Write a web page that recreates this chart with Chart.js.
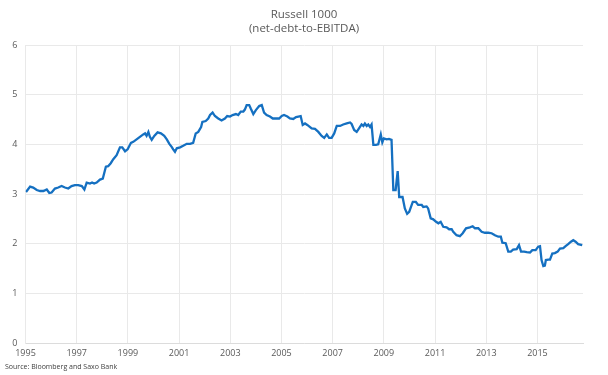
<!DOCTYPE html>
<html>
<head>
<meta charset="utf-8">
<script src="https://cdn.jsdelivr.net/npm/chart.js@4/dist/chart.umd.min.js"></script>
<style>
    body { margin: 0; background: #fff; }
    #wrap { position: relative; width: 608px; height: 375px; font-family: 'Open Sans', sans-serif; }
    #title { position: absolute; top: 7px; left: 0; width: 608px; text-align: center; font-size: 11.5px; line-height: 14px; color: #595959; }
    #source { position: absolute; left: 5px; top: 362px; font-size: 7px; line-height: 10px; color: #404040; }
    #chart { position: absolute; left: 0; top: 0; }
</style>
</head>
<body>
<div id="wrap">
    <canvas id="chart" width="608" height="375"></canvas>
    <div id="title">Russell 1000<br>(net-debt-to-EBITDA)</div>
    <div id="source">Source: Bloomberg and Saxo Bank</div>
</div>
<script>
// dates as decimal years
var years = [
    1995.02, 1995.18, 1995.30, 1995.44, 1995.57, 1995.70, 1995.83, 1995.93, 1996.02, 1996.15,
    1996.28, 1996.41, 1996.54, 1996.67, 1996.80, 1996.93, 1997.06, 1997.20, 1997.30, 1997.39,
    1997.52, 1997.60, 1997.68, 1997.78, 1997.91, 1998.02, 1998.14, 1998.23, 1998.33, 1998.43,
    1998.56, 1998.69, 1998.78, 1998.89, 1998.99, 1999.12, 1999.21, 1999.34, 1999.47, 1999.60,
    1999.67, 1999.73, 1999.80, 1999.86, 1999.93, 2000.03, 2000.16, 2000.29, 2000.42, 2000.52,
    2000.62, 2000.71, 2000.77, 2000.84, 2000.91, 2001.04, 2001.16, 2001.30, 2001.43, 2001.55,
    2001.65, 2001.75, 2001.86, 2001.91, 2002.04, 2002.14, 2002.21, 2002.31, 2002.40, 2002.53,
    2002.66, 2002.79, 2002.88, 2002.99, 2003.09, 2003.22, 2003.31, 2003.41, 2003.51, 2003.57,
    2003.64, 2003.74, 2003.80, 2003.90, 2004.00, 2004.13, 2004.23, 2004.32, 2004.42, 2004.55,
    2004.66, 2004.79, 2004.91, 2005.01, 2005.10, 2005.23, 2005.33, 2005.46, 2005.57, 2005.66,
    2005.75, 2005.83, 2005.92, 2006.01, 2006.18, 2006.31, 2006.44, 2006.57, 2006.67, 2006.77,
    2006.86, 2006.96, 2007.06, 2007.16, 2007.29, 2007.41, 2007.55, 2007.68, 2007.74, 2007.84,
    2007.94, 2008.03, 2008.13, 2008.20, 2008.26, 2008.33, 2008.39, 2008.46, 2008.52, 2008.59,
    2008.69, 2008.78, 2008.88, 2008.94, 2009.00, 2009.11, 2009.20, 2009.30, 2009.37, 2009.46,
    2009.54, 2009.60, 2009.73, 2009.82, 2009.91, 2009.99, 2010.13, 2010.25, 2010.34, 2010.48,
    2010.54, 2010.67, 2010.73, 2010.83, 2010.93, 2011.04, 2011.13, 2011.22, 2011.32, 2011.45,
    2011.55, 2011.65, 2011.71, 2011.84, 2011.97, 2012.08, 2012.21, 2012.36, 2012.47, 2012.56,
    2012.69, 2012.82, 2012.95, 2013.08, 2013.21, 2013.34, 2013.47, 2013.57, 2013.63, 2013.76,
    2013.86, 2013.96, 2014.05, 2014.19, 2014.28, 2014.36, 2014.48, 2014.58, 2014.71, 2014.80,
    2014.93, 2015.03, 2015.10, 2015.16, 2015.23, 2015.29, 2015.33, 2015.42, 2015.49, 2015.58,
    2015.68, 2015.79, 2015.88, 2016.01, 2016.10, 2016.20, 2016.31, 2016.40, 2016.49, 2016.59,
    2016.75
];

// net debt / EBITDA
var netDebtToEbitda = [
    3.04, 3.15, 3.13, 3.08, 3.06, 3.06, 3.09, 3.02, 3.03, 3.11,
    3.13, 3.16, 3.13, 3.11, 3.16, 3.18, 3.18, 3.16, 3.09, 3.23,
    3.21, 3.23, 3.21, 3.23, 3.29, 3.31, 3.55, 3.56, 3.62, 3.70,
    3.78, 3.94, 3.94, 3.86, 3.90, 4.03, 4.05, 4.10, 4.15, 4.20,
    4.22, 4.17, 4.25, 4.15, 4.09, 4.17, 4.24, 4.22, 4.17, 4.10,
    4.01, 3.95, 3.90, 3.85, 3.92, 3.94, 3.97, 4.01, 4.01, 4.03,
    4.22, 4.25, 4.35, 4.45, 4.47, 4.52, 4.59, 4.64, 4.57, 4.52,
    4.48, 4.52, 4.57, 4.56, 4.59, 4.61, 4.59, 4.66, 4.66, 4.70,
    4.79, 4.79, 4.72, 4.61, 4.69, 4.77, 4.79, 4.64, 4.59, 4.56,
    4.52, 4.52, 4.52, 4.57, 4.59, 4.56, 4.52, 4.51, 4.55, 4.56,
    4.57, 4.39, 4.42, 4.39, 4.32, 4.31, 4.25, 4.17, 4.13, 4.20,
    4.13, 4.13, 4.22, 4.37, 4.37, 4.40, 4.42, 4.44, 4.41, 4.29,
    4.25, 4.32, 4.40, 4.37, 4.42, 4.37, 4.40, 4.35, 4.40, 3.99,
    3.99, 4.00, 4.20, 4.04, 4.12, 4.10, 4.11, 4.09, 3.08, 3.08,
    3.46, 2.94, 2.94, 2.71, 2.60, 2.64, 2.84, 2.84, 2.78, 2.78,
    2.74, 2.75, 2.71, 2.51, 2.49, 2.44, 2.41, 2.44, 2.34, 2.33,
    2.29, 2.29, 2.24, 2.17, 2.15, 2.21, 2.31, 2.33, 2.35, 2.31,
    2.31, 2.24, 2.22, 2.22, 2.21, 2.17, 2.14, 2.14, 2.02, 2.01,
    1.84, 1.84, 1.88, 1.89, 1.97, 1.84, 1.84, 1.83, 1.82, 1.87,
    1.87, 1.94, 1.95, 1.67, 1.55, 1.56, 1.67, 1.68, 1.68, 1.80,
    1.81, 1.84, 1.90, 1.91, 1.95, 1.99, 2.04, 2.07, 2.04, 1.99,
    1.97
];

var xTicks = [1995, 1997, 1999, 2001, 2003, 2005, 2007, 2009, 2011, 2013, 2015];
var xMin = 1995, xMax = 2016.78;
var yTicks = [0, 1, 2, 3, 4, 5, 6];

function buildPoints(xs, ys) {
    var pts = [];
    for (var i = 0; i < xs.length; i++) {
        pts.push({ x: xs[i], y: ys[i] });
    }
    return pts;
}

var gridColor = '#e9e9e9';
var tickFont = { family: "'Open Sans', sans-serif", size: 9 };

new Chart(document.getElementById('chart'), {
    type: 'line',
    data: {
        datasets: [{
            label: 'Russell 1000',
            data: buildPoints(years, netDebtToEbitda),
            borderColor: '#1570c1',
            borderWidth: 2.3,
            pointRadius: 0,
            tension: 0,
            fill: false
        }]
    },
    options: {
        responsive: false,
        animation: false,
        layout: { padding: { top: 45, right: 25, left: 0, bottom: 0 } },
        plugins: {
            legend: { display: false },
            tooltip: { enabled: false }
        },
        scales: {
            x: {
                type: 'linear',
                min: xMin,
                max: xMax,
                afterBuildTicks: function (axis) {
                    axis.ticks = xTicks.map(function (v) { return { value: v }; });
                },
                afterFit: function (axis) { axis.height = 32; },
                grid: { color: gridColor, drawTicks: false },
                border: { color: '#dcdcdc' },
                ticks: {
                    padding: 5,
                    color: '#595959',
                    font: tickFont,
                    maxRotation: 0,
                    autoSkip: false,
                    callback: function (v) { return String(v); }
                }
            },
            y: {
                min: 0,
                max: 6,
                afterBuildTicks: function (axis) {
                    axis.ticks = yTicks.map(function (v) { return { value: v }; });
                },
                afterFit: function (axis) { axis.width = 25.5; },
                grid: { color: gridColor, drawTicks: false },
                border: { color: gridColor },
                ticks: {
                    padding: 8,
                    color: '#595959',
                    font: tickFont
                }
            }
        }
    }
});
</script>
</body>
</html>
